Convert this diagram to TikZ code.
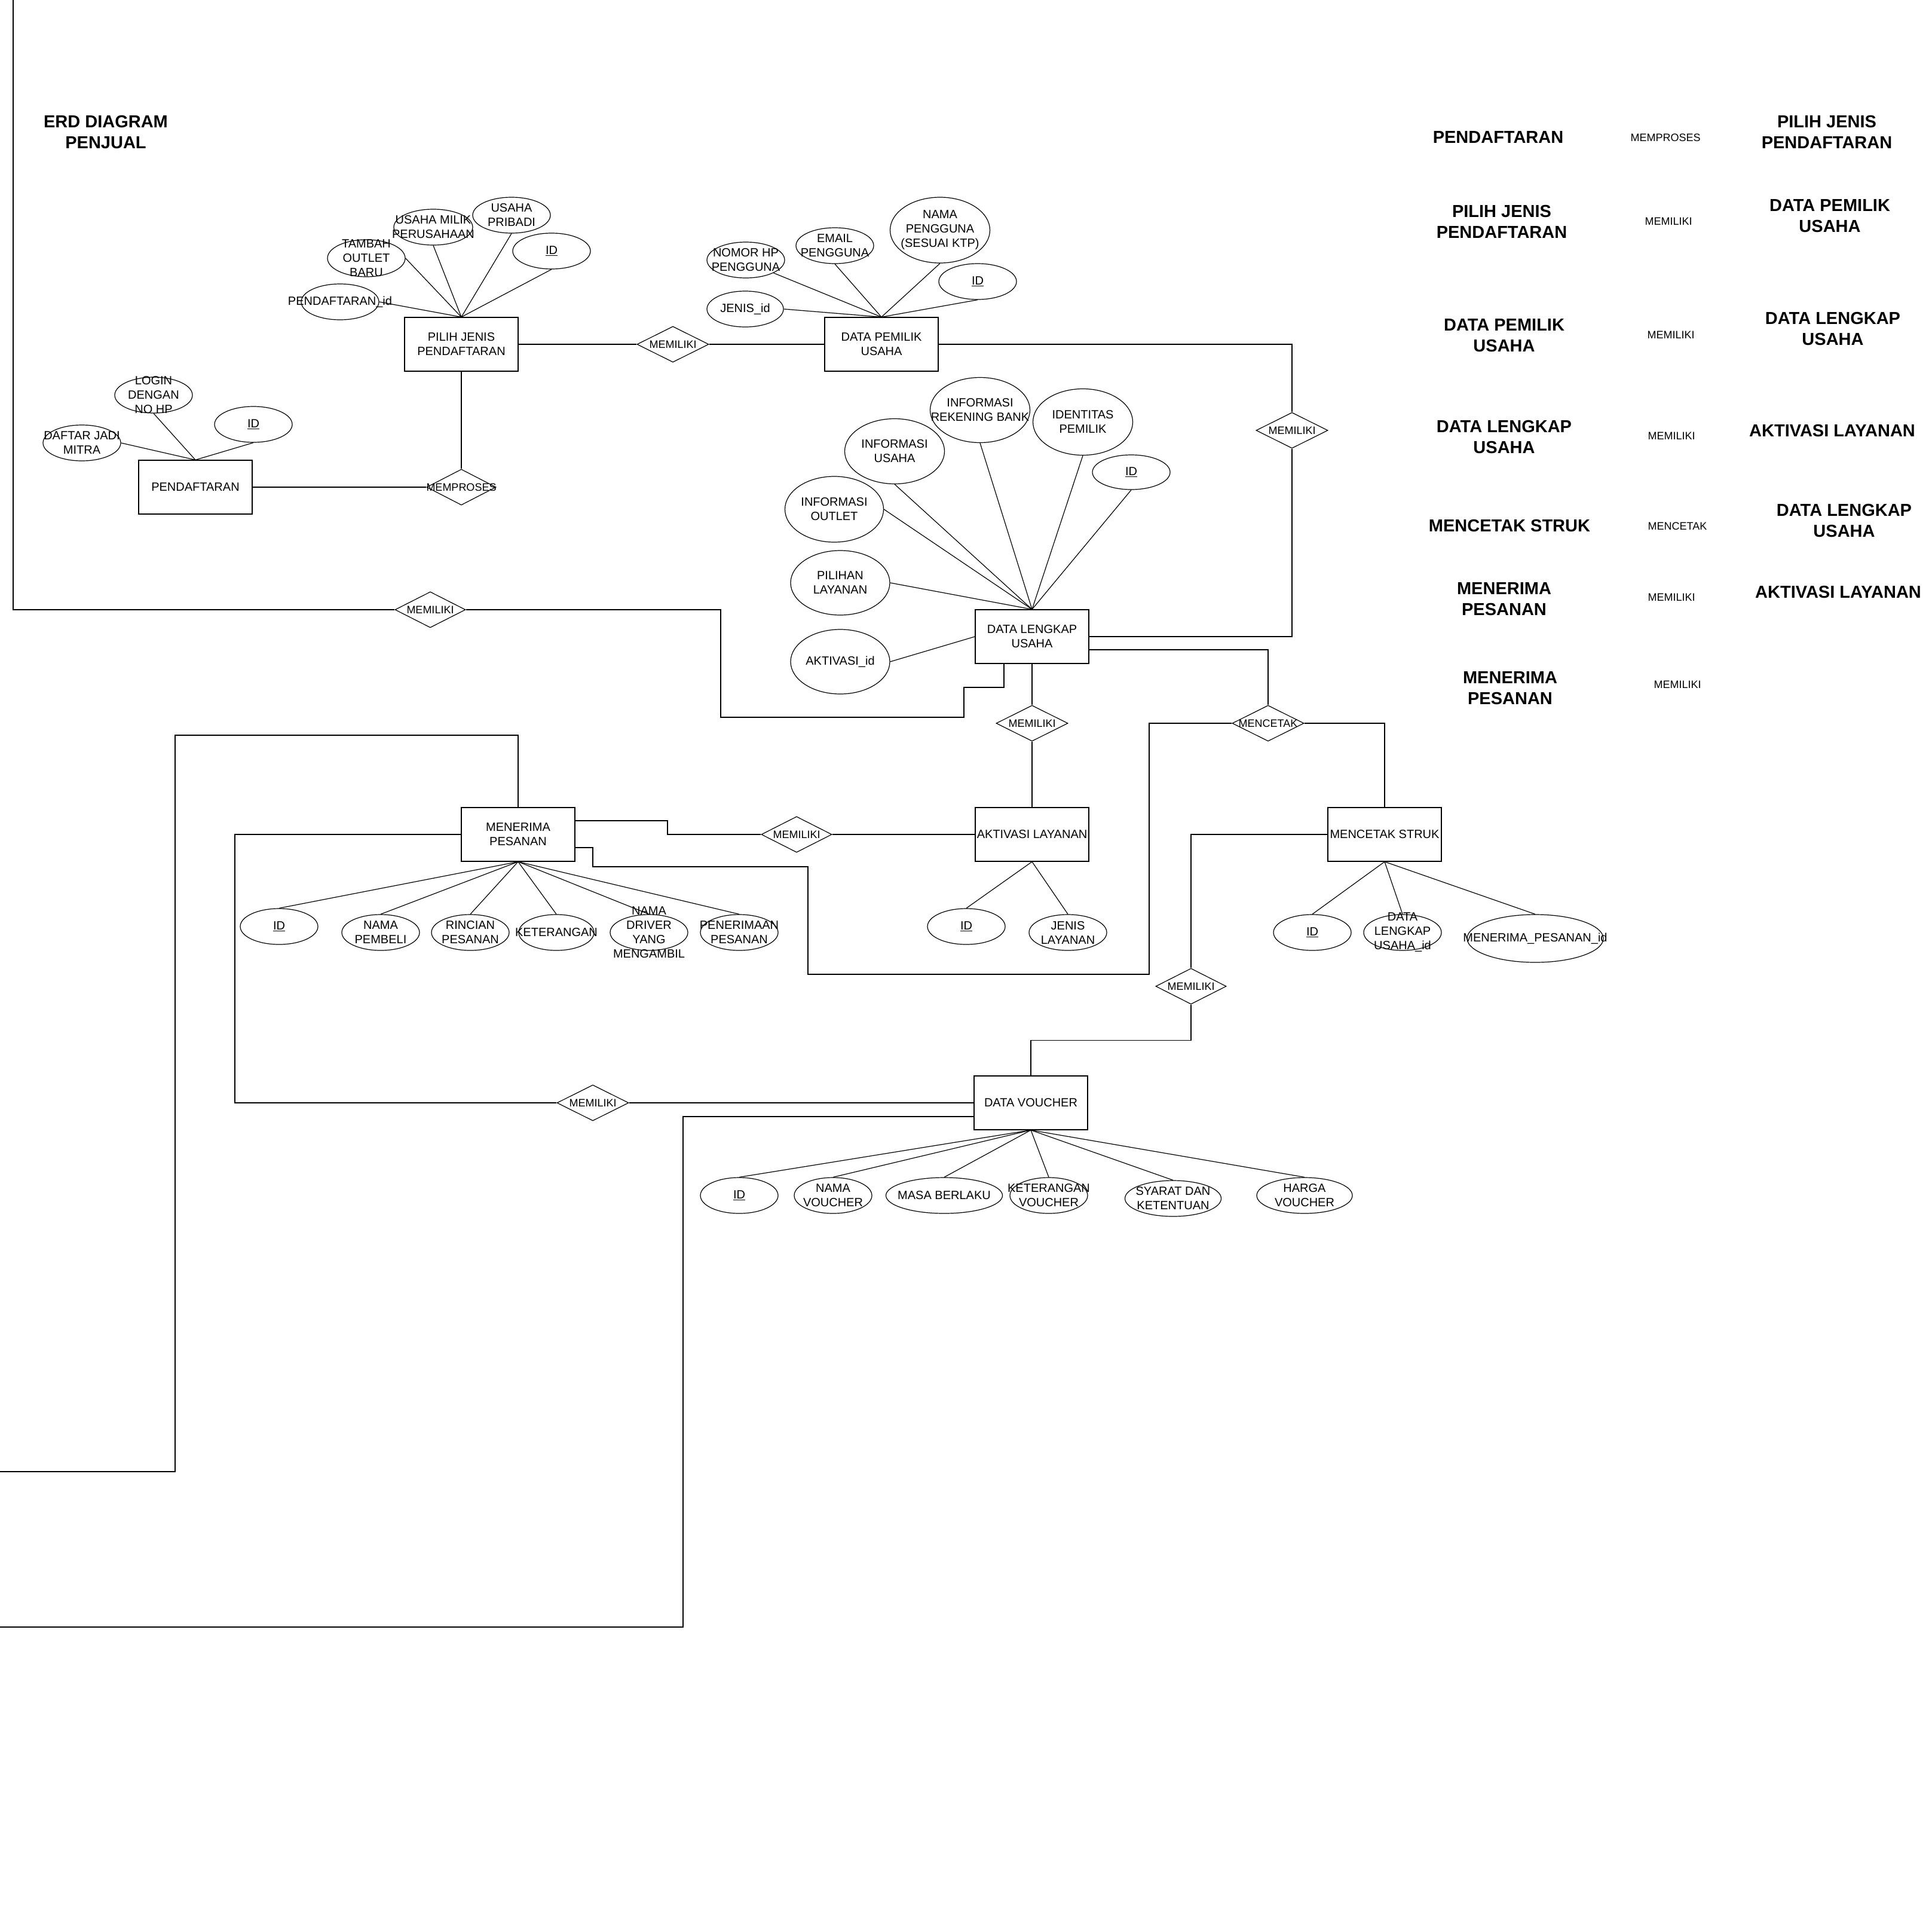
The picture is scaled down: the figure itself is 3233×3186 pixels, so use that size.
\documentclass[tikz,border=0pt]{standalone}
\usepackage{fontspec}
\setmainfont{Liberation Sans}
\usetikzlibrary{shapes.geometric}

\begin{document}
\begin{tikzpicture}[x=1pt,y=-1pt,line width=1.2pt,
  entity/.style={draw,rectangle,minimum width=190pt,minimum height=90pt,inner sep=0pt,align=center,font=\fontsize{20}{24}\selectfont},
  attr/.style={draw,ellipse,minimum width=130pt,minimum height=60pt,inner sep=0pt},
  atxt/.style={align=center,inner sep=0pt,font=\fontsize{20}{24}\selectfont},
  rel/.style={draw,diamond,minimum width=120pt,minimum height=60pt,inner sep=0pt},
  rtxt/.style={inner sep=0pt,font=\fontsize{18}{21}\selectfont},
  judul/.style={align=center,inner sep=0pt,font=\fontsize{29}{35}\selectfont\bfseries}]

\fill[white] (0,0) rectangle (3233,3186);
\useasboundingbox (0,0) rectangle (3233,3186);

\node[judul] (title) at (177,221) {ERD DIAGRAM\\PENJUAL};

% entitas
\node[entity] (daftar) at (327,815) {PENDAFTARAN};
\node[entity] (pilih) at (772,576) {PILIH JENIS\\PENDAFTARAN};
\node[entity] (pemilik) at (1475,576) {DATA PEMILIK\\USAHA};
\node[entity] (lengkap) at (1727,1065) {DATA LENGKAP\\USAHA};
\node[entity] (aktivasi) at (1727,1396) {AKTIVASI LAYANAN};
\node[entity] (struk) at (2317,1396) {MENCETAK STRUK};
\node[entity] (terima) at (867,1396) {MENERIMA\\PESANAN};
\node[entity] (voucher) at (1725,1845) {DATA VOUCHER};

% relasi
\node[rel,minimum width=116pt,label={[rtxt]center:MEMPROSES}] (mproses) at (772,815) {};
\node[rel,label={[rtxt]center:MEMILIKI}] (mem1) at (1126,576) {};
\node[rel,label={[rtxt]center:MEMILIKI}] (mem2) at (2162,720) {};
\node[rel,minimum width=118pt,label={[rtxt]center:MEMILIKI}] (mem3) at (720,1020) {};
\node[rel,label={[rtxt]center:MEMILIKI}] (mem4) at (1727,1210) {};
\node[rel,label={[rtxt]center:MENCETAK}] (mencetak) at (2122,1210) {};
\node[rel,minimum width=118pt,label={[rtxt]center:MEMILIKI}] (mem5) at (1333,1396) {};
\node[rel,minimum width=118pt,label={[rtxt]center:MEMILIKI}] (mem6) at (1993,1650) {};
\node[rel,label={[rtxt]center:MEMILIKI}] (mem7) at (992,1845) {};

% atribut pendaftaran
\node[attr,label={[atxt]center:{LOGIN\\DENGAN\\NO HP}}] (login) at (257,661) {};
\node[attr,label={[atxt]center:{DAFTAR JADI\\MITRA}}] (mitra) at (137,741) {};
\node[attr,label={[atxt]center:\underline{ID}}] (idDaftar) at (424,710) {};

% atribut pilih jenis
\node[attr,minimum height=62pt,label={[atxt]center:{TAMBAH\\OUTLET\\BARU}}] (tambah) at (613,432) {};
\node[attr,minimum width=132pt,label={[atxt]center:{USAHA MILIK\\PERUSAHAAN}}] (milik) at (725,380) {};
\node[attr,label={[atxt]center:{USAHA\\PRIBADI}}] (pribadi) at (856,360) {};
\node[attr,label={[atxt]center:\underline{ID}}] (idPilih) at (923,420) {};
\node[attr,label={[atxt]center:PENDAFTARAN\_id}] (pdid) at (569,505) {};

% atribut data pemilik
\node[attr,label={[atxt]center:{NOMOR HP\\PENGGUNA}}] (nomor) at (1248,435) {};
\node[attr,label={[atxt]center:{EMAIL\\PENGGUNA}}] (email) at (1397,411) {};
\node[attr,minimum width=167pt,minimum height=110pt,label={[atxt]center:{NAMA\\PENGGUNA\\(SESUAI KTP)}}] (nama) at (1573,385) {};
\node[attr,label={[atxt]center:\underline{ID}}] (idPemilik) at (1636,471) {};
\node[attr,minimum width=128pt,label={[atxt]center:JENIS\_id}] (jenis) at (1247,517) {};

% atribut data lengkap
\node[attr,minimum width=167pt,minimum height=109pt,label={[atxt]center:{INFORMASI\\REKENING BANK}}] (rekening) at (1640,686) {};
\node[attr,minimum width=167pt,minimum height=111pt,label={[atxt]center:{IDENTITAS\\PEMILIK}}] (identitas) at (1812,706) {};
\node[attr,minimum width=167pt,minimum height=109pt,label={[atxt]center:{INFORMASI\\USAHA}}] (infousaha) at (1497,755) {};
\node[attr,minimum height=58pt,label={[atxt]center:\underline{ID}}] (idLengkap) at (1893,790) {};
\node[attr,minimum width=165pt,minimum height=110pt,label={[atxt]center:{INFORMASI\\OUTLET}}] (outlet) at (1396,852) {};
\node[attr,minimum width=166pt,minimum height=108pt,label={[atxt]center:{PILIHAN\\LAYANAN}}] (pilihan) at (1406,975) {};
\node[attr,minimum width=166pt,minimum height=108pt,label={[atxt]center:AKTIVASI\_id}] (aktid) at (1406,1107) {};

% atribut aktivasi dan struk
\node[attr,label={[atxt]center:\underline{ID}}] (idAkt) at (1617,1550) {};
\node[attr,label={[atxt]center:{JENIS\\LAYANAN}}] (jenisLay) at (1787,1560) {};
\node[attr,label={[atxt]center:\underline{ID}}] (idStruk) at (2196,1560) {};
\node[attr,label={[atxt]center:{DATA\\LENGKAP\\USAHA\_id}}] (dlid) at (2347,1560) {};
\node[attr,minimum width=228pt,minimum height=80pt,label={[atxt]center:MENERIMA\_PESANAN\_id}] (mpid) at (2569,1570) {};

% atribut menerima pesanan
\node[attr,label={[atxt]center:\underline{ID}}] (idTerima) at (467,1550) {};
\node[attr,label={[atxt]center:{NAMA\\PEMBELI}}] (pembeli) at (637,1560) {};
\node[attr,label={[atxt]center:{RINCIAN\\PESANAN}}] (rincian) at (787,1560) {};
\node[attr,minimum width=126pt,label={[atxt]center:KETERANGAN}] (ket) at (931,1560) {};
\node[attr,label={[atxt]center:{NAMA\\DRIVER\\YANG\\MENGAMBIL}}] (driver) at (1086,1560) {};
\node[attr,label={[atxt]center:{PENERIMAAN\\PESANAN}}] (penerimaan) at (1237,1560) {};

% atribut voucher
\node[attr,label={[atxt]center:\underline{ID}}] (idVoucher) at (1237,2000) {};
\node[attr,label={[atxt]center:{NAMA\\VOUCHER}}] (namaV) at (1394,2000) {};
\node[attr,minimum width=195pt,label={[atxt]center:MASA BERLAKU}] (masa) at (1580,2000) {};
\node[attr,label={[atxt]center:{KETERANGAN\\VOUCHER}}] (ketV) at (1755,2000) {};
\node[attr,minimum width=161pt,label={[atxt]center:{SYARAT DAN\\KETENTUAN}}] (syarat) at (1963,2005) {};
\node[attr,minimum width=160pt,label={[atxt]center:{HARGA\\VOUCHER}}] (harga) at (2183,2000) {};

% garis atribut
\draw (daftar.north) -- (mitra.east);
\foreach \a in {login,idDaftar} \draw (daftar.north) -- (\a.south);
\draw (pilih.north) -- (tambah.east);
\draw (pilih.north) -- (pdid.east);
\foreach \a in {milik,pribadi,idPilih} \draw (pilih.north) -- (\a.south);
\draw (pemilik.north) -- (nomor.-25);
\draw (pemilik.north) -- (jenis.east);
\foreach \a in {email,nama,idPemilik} \draw (pemilik.north) -- (\a.south);
\foreach \a in {rekening,identitas,infousaha,idLengkap} \draw (lengkap.north) -- (\a.south);
\foreach \a in {outlet,pilihan} \draw (lengkap.north) -- (\a.east);
\draw (lengkap.west) -- (aktid.east);
\foreach \a in {idAkt,jenisLay} \draw (aktivasi.south) -- (\a.north);
\foreach \a in {idStruk,dlid,mpid} \draw (struk.south) -- (\a.north);
\foreach \a in {idTerima,pembeli,rincian,ket,driver,penerimaan} \draw (terima.south) -- (\a.north);
\foreach \a in {idVoucher,namaV,masa,ketV,syarat,harga} \draw (voucher.south) -- (\a.north);

% garis relasi
\coordinate (kiriAtas) at (22,0);
\coordinate (kiriTengah) at (0,2462);
\coordinate (kiriBawah) at (0,2722);
\draw (daftar) -- (mproses) -- (pilih);
\draw (pilih) -- (mem1) -- (pemilik);
\draw (pemilik.east) -| (mem2.north);
\draw (mem2.south) |- (lengkap.east);
\draw (kiriAtas) |- (mem3.west);
\draw (mem3.east) -| (1206,1200) -| (1613,1150) -| ([xshift=-47pt]lengkap.south);
\draw (lengkap) -- (mem4) -- (aktivasi);
\draw ([yshift=-22pt]lengkap.east) -| (mencetak.north);
\draw (mencetak.east) -| (struk.north);
\draw (mencetak.west) -| (1923,1630) -| (1352,1450) -| (992,1418) -- ([yshift=-22pt]terima.east);
\draw ([yshift=23pt]terima.east) -| (1117,1396) -- (mem5.west);
\draw (mem5) -- (aktivasi);
\draw (struk.west) -| (mem6.north);
\draw (mem6.south) -- ++(0,60) -| (voucher.north);
\draw (terima.west) -- (393,1396) |- (mem7.west);
\draw (mem7) -- (voucher);
\draw ([yshift=-23pt]voucher.west) -| (1143,2722) -- (kiriBawah);
\draw (terima.north) |- (293,1230) |- (kiriTengah);

% tabel relasi
\node[judul] (t1a) at (2507,230) {PENDAFTARAN};
\node[rtxt] (t1b) at (2787,230) {MEMPROSES};
\node[judul] (t1c) at (3057,221) {PILIH JENIS\\PENDAFTARAN};
\node[judul] (t2a) at (2513,371) {PILIH JENIS\\PENDAFTARAN};
\node[rtxt] (t2b) at (2792,370) {MEMILIKI};
\node[judul] (t2c) at (3062,361) {DATA PEMILIK\\USAHA};
\node[judul] (t3a) at (2517,561) {DATA PEMILIK\\USAHA};
\node[rtxt] (t3b) at (2796,560) {MEMILIKI};
\node[judul] (t3c) at (3067,550) {DATA LENGKAP\\USAHA};
\node[judul] (t4a) at (2517,731) {DATA LENGKAP\\USAHA};
\node[rtxt] (t4b) at (2797,729) {MEMILIKI};
\node[judul] (t4c) at (3066,721) {AKTIVASI LAYANAN};
\node[judul] (t5a) at (2526,880) {MENCETAK STRUK};
\node[rtxt] (t5b) at (2807,880) {MENCETAK};
\node[judul] (t5c) at (3086,871) {DATA LENGKAP\\USAHA};
\node[judul] (t6a) at (2517,1002) {MENERIMA\\PESANAN};
\node[rtxt] (t6b) at (2797,999) {MEMILIKI};
\node[judul] (t6c) at (3076,991) {AKTIVASI LAYANAN};
\node[judul] (t7a) at (2527,1151) {MENERIMA\\PESANAN};
\node[rtxt] (t7b) at (2807,1145) {MEMILIKI};

\end{tikzpicture}
\end{document}
